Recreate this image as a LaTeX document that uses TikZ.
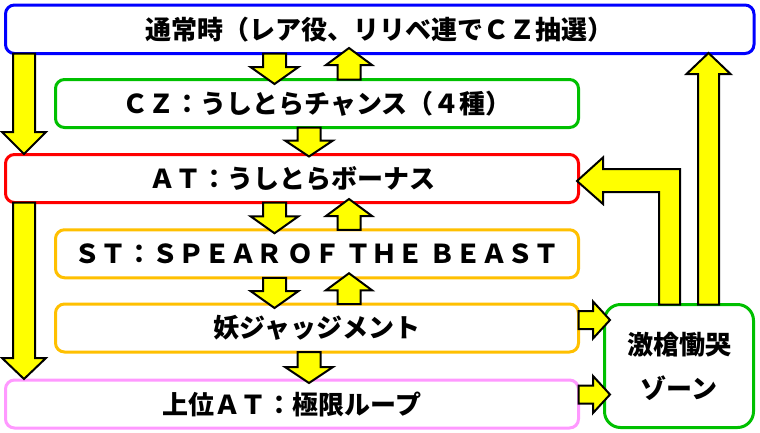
\documentclass[tikz,border=0pt]{standalone}
\usepackage{fontspec}
\setmainfont{Noto Sans CJK JP}
\usetikzlibrary{calc}
\definecolor{cblue}{RGB}{0,0,255}
\definecolor{cgreen}{RGB}{0,192,0}
\definecolor{cred}{RGB}{255,0,0}
\definecolor{corange}{RGB}{255,192,0}
\definecolor{cpink}{RGB}{255,153,255}
\definecolor{cyellow}{RGB}{255,255,0}
% #1 start, #2 tip, #3 shaft half width, #4 head half width, #5 head length
\newcommand\barrow[5]{%
  \coordinate (bS) at #1;
  \coordinate (bE) at #2;
  \coordinate (bH) at ($(bE)!#5!(bS)$);
  \draw[blockarrow] ($(bS)!#3!90:(bE)$) -- ($(bH)!#3!-90:(bS)$) -- ($(bH)!#4!-90:(bS)$) -- (bE)
     -- ($(bH)!#4!90:(bS)$) -- ($(bH)!#3!90:(bS)$) -- ($(bS)!#3!-90:(bE)$) -- cycle;
}
\begin{document}
\begin{tikzpicture}[x=1pt,y=-1pt,
  box/.style={draw, line width=3pt, rounded corners=9pt, fill=white, outer sep=0pt, inner sep=0pt,
    minimum height=48pt, font=\fontsize{26}{30}\selectfont\bfseries},
  blockarrow/.style={draw=black, fill=cyellow, line width=2pt, line join=miter}]
\useasboundingbox[fill=white] (0,0) rectangle (760,432);

\node[box, draw=cblue, minimum width=748.5pt, minimum height=48.5pt] (top) at (379.75,29.25) {通常時（レア役、リリベ連でＣＺ抽選）};
\node[box, draw=cgreen, minimum width=523pt] (cz) at (317,103.5) {ＣＺ：うしとらチャンス（４種）};
\node[box, draw=cred, minimum width=573pt] (at) at (292,178.5) {ＡＴ：うしとらボーナス};
\node[box, draw=corange, minimum width=523pt] (st) at (317,253.75) {ＳＴ：ＳＰＥＡＲ ＯＦ ＴＨＥ ＢＥＡＳＴ};
\node[box, draw=corange, minimum width=523pt] (yo) at (317,328) {妖ジャッジメント};
\node[box, draw=cpink, minimum width=573pt] (up) at (292,404) {上位ＡＴ：極限ループ};
\node[box, draw=cgreen, minimum width=149pt, minimum height=123pt, rounded corners=16pt, align=center,
  font=\fontsize{26}{44}\selectfont\bfseries] (zone) at (679,366) {激槍慟哭\\ゾーン};

% short vertical arrows
\barrow{(274.5,0 |- top.south)}{($(274.5,0 |- cz.north)+(0,4.5)$)}{11.5pt}{24pt}{17pt}
\barrow{(349,0 |- cz.north)}{($(349,0 |- top.south)+(0,-5.5)$)}{11.5pt}{23pt}{17pt}
\barrow{(309,0 |- cz.south)}{($(309,0 |- at.north)+(0,2)$)}{11.5pt}{24pt}{16pt}
\barrow{(274.5,0 |- at.south)}{($(274.5,0 |- st.north)+(0,3.5)$)}{11.5pt}{24pt}{17pt}
\barrow{(349,0 |- st.north)}{($(349,0 |- at.south)+(0,-3.5)$)}{11.5pt}{23pt}{17pt}
\barrow{(274.5,0 |- st.south)}{($(274.5,0 |- yo.north)+(0,4)$)}{11.5pt}{24pt}{17pt}
\barrow{(349,0 |- yo.north)}{($(349,0 |- st.south)+(0,-4.5)$)}{11.5pt}{23pt}{17pt}
\barrow{(309,0 |- yo.south)}{($(309,0 |- up.north)+(0,3)$)}{11.5pt}{24pt}{16pt}
% long left arrows
\barrow{(24,0 |- top.south)}{($(24,0 |- at.north)+(0,-0.5)$)}{11pt}{22pt}{22pt}
\barrow{(24,0 |- at.south)}{($(24,0 |- up.north)+(0,-1)$)}{11pt}{22pt}{21pt}
% right arrows into the zone
\barrow{(yo.east |- 0,320)}{($(zone.west |- 0,320)+(5.5,0)$)}{9pt}{18.5pt}{17pt}
\barrow{(up.east |- 0,394.5)}{($(zone.west |- 0,394.5)+(5.5,0)$)}{9pt}{18.5pt}{17pt}
% zone up to top
\barrow{(708.5,0 |- zone.north)}{($(708.5,0 |- top.south)+(0,-0.5)$)}{10.5pt}{22pt}{21pt}
% zone to AT (L-shaped)
\draw[blockarrow] (680,0 |- zone.north) -- (680,169) -- (603,169) -- (603,157.5)
  -- ($(at.east)+(-1.5,2.5)$) -- (603,204) -- (603,192) -- (659,192) -- (659,0 |- zone.north) -- cycle;
\end{tikzpicture}
\end{document}
